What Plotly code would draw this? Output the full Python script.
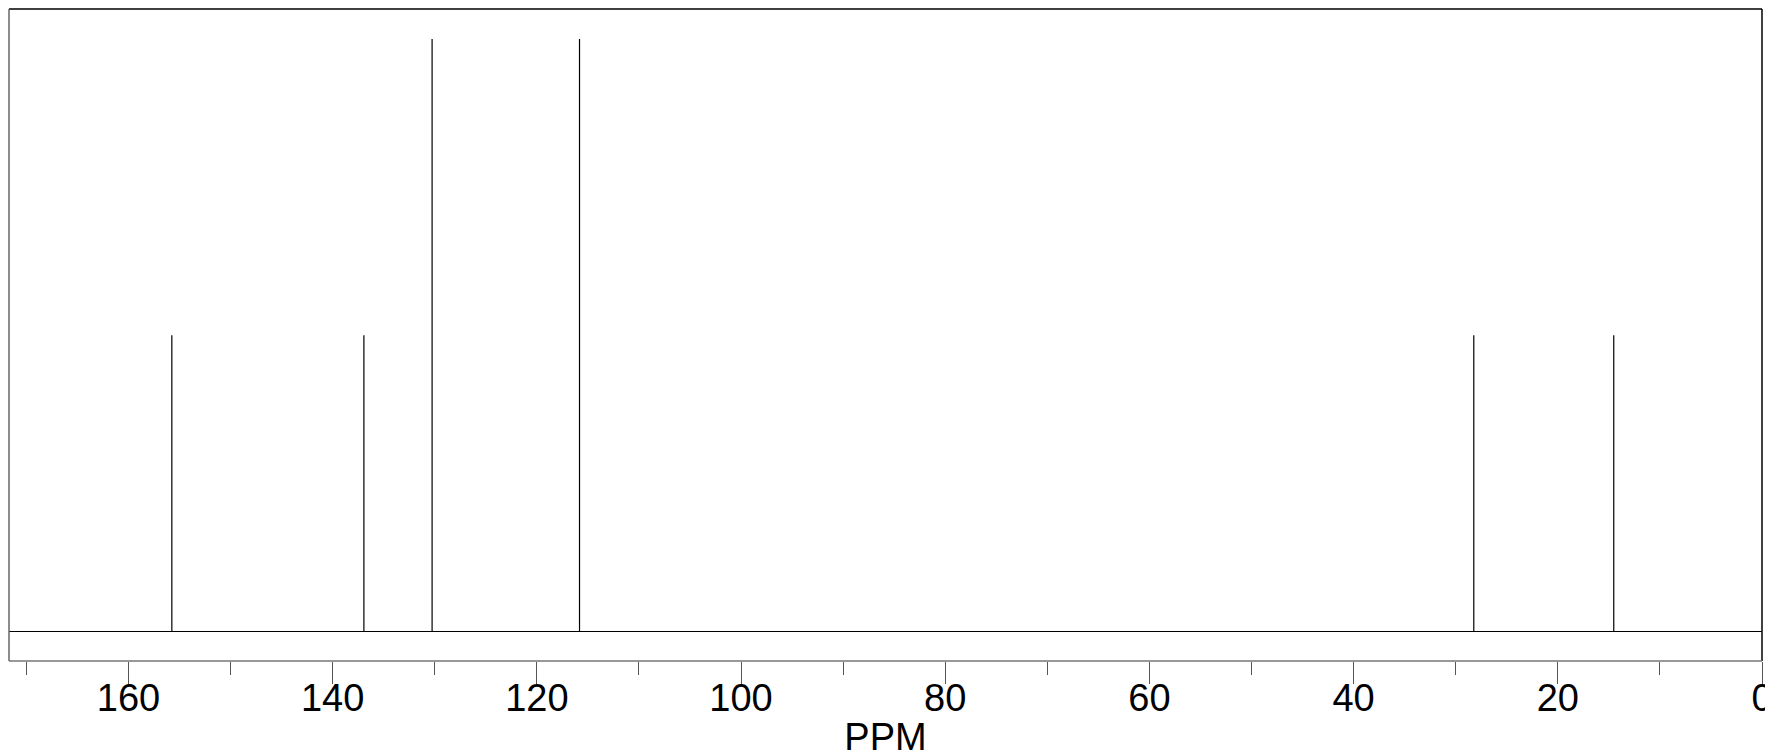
import plotly.graph_objects as go

# 13C NMR stick spectrum (chemical shift in ppm, relative intensity)
peak_ppm = [155.75, 136.94, 130.26, 115.82, 28.23, 14.52]
peak_intensity = [0.5, 0.5, 1.0, 1.0, 0.5, 0.5]
x_ticks = [160, 140, 120, 100, 80, 60, 40, 20, 0]
x_tick_labels = ["160", "140", "120", "100", "80", "60", "40", "20", "0"]

xs, ys = [], []
for p, h in zip(peak_ppm, peak_intensity):
    xs += [p, p, None]
    ys += [0, h, None]

fig = go.Figure()
fig.add_trace(go.Scatter(x=xs, y=ys, mode="lines",
                         line=dict(color="black", width=1.2),
                         hoverinfo="skip", showlegend=False))

FONT = "Liberation Sans, Arial, Helvetica, sans-serif"
fig.update_layout(
    width=1773, height=750,
    margin=dict(l=1, r=18.5, t=1, b=97, autoexpand=False),
    paper_bgcolor="white", plot_bgcolor="white",
    font=dict(family=FONT, size=38, color="black"),
    xaxis=dict(
        range=[171.7, 0], automargin=False,
        tickmode="array", tickvals=x_ticks, ticktext=x_tick_labels,
        ticks="outside", ticklen=22, tickwidth=1, tickcolor="#555",
        ticklabelstandoff=-19,
        minor=dict(dtick=10, tick0=0, ticks="outside", ticklen=13,
                   tickwidth=1, tickcolor="#555"),
        showgrid=False, zeroline=False, showline=False,
        tickfont=dict(size=38, family=FONT, color="black"),
        title=dict(text="PPM", font=dict(size=38, family=FONT, color="black"),
                   standoff=2),
    ),
    yaxis=dict(
        range=[-0.0501, 1.0506], automargin=False,
        showticklabels=False, ticks="", showgrid=False,
        zeroline=True, zerolinecolor="black", zerolinewidth=1,
        showline=False,
    ),
    shapes=[
        dict(type="line", xref="paper", yref="paper", x0=0, x1=1, y0=1, y1=1,
             line=dict(color="black", width=1.5)),
        dict(type="line", xref="paper", yref="paper", x0=1, x1=1, y0=0, y1=1,
             line=dict(color="black", width=1.5)),
        dict(type="line", xref="paper", yref="paper", x0=0, x1=0, y0=0, y1=1,
             line=dict(color="#666", width=1.5)),
        dict(type="line", xref="paper", yref="paper", x0=0, x1=1, y0=0, y1=0,
             line=dict(color="#777", width=1.5)),
    ],
)

fig.write_html("out.html")
